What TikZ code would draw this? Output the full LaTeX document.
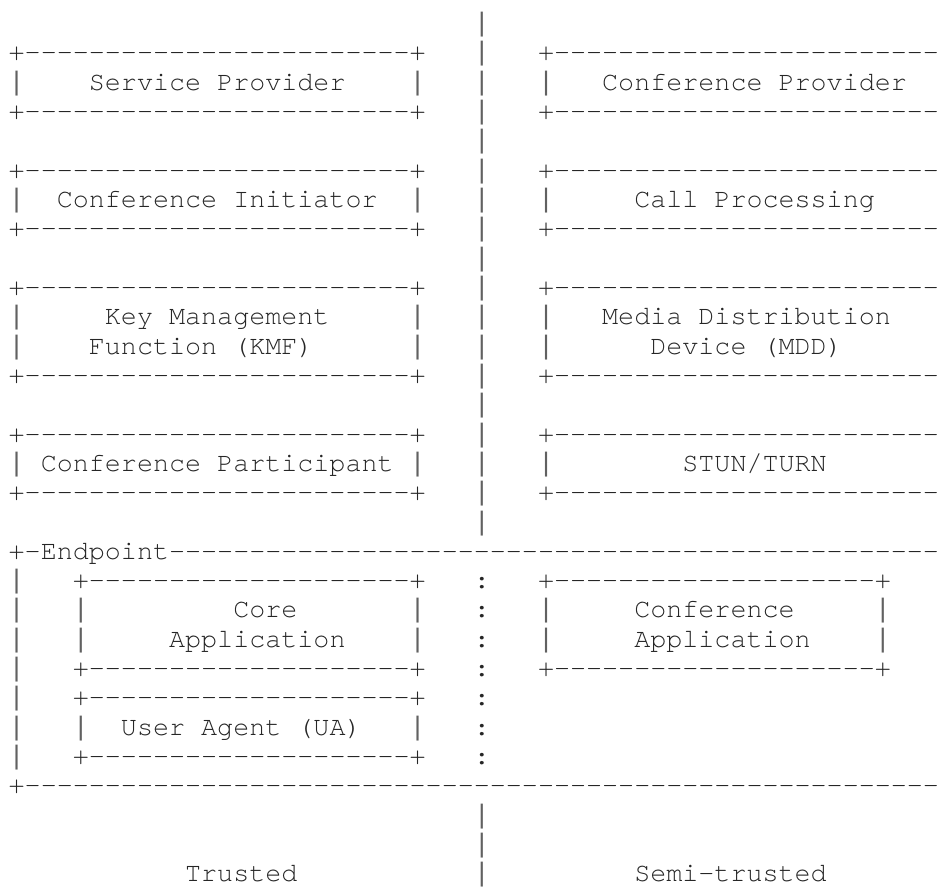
\documentclass[tikz,border=0pt]{standalone}
\usepackage{fontspec}
\setmonofont{TeX Gyre Cursor}
\newfontfamily\barfont{Liberation Mono}
\ExplSyntaxOn
\cs_new:Npn \dashrun #1 { \prg_replicate:nn {#1} {-} }
\ExplSyntaxOff
% character grid: column width and row pitch, in px units
\newcommand\gx[1]{8.7+16.04*(#1)}
\newcommand\gy[1]{31.4+29.33*(#1)}
\newcommand\vbar{{\barfont\color{black!62}|}}
\tikzset{
  ascii/.style={font=\ttfamily\fontsize{20.05pt}{22pt}\selectfont,
    anchor=base west, inner sep=0pt, outer sep=0pt, text=black!85},
}
\newcommand\cell[4]{\node[ascii] (#1) at ({\gx{#2}},{\gy{#3}}) {#4};}
\begin{document}
\begin{tikzpicture}[x=0.75pt,y=-0.75pt]
\useasboundingbox (0,0) rectangle (943,887);
\fill[white] (0,0) rectangle (943,887);
\clip (0,0) rectangle (943,887);

% trust boundary between the two columns
\foreach \r in {0,...,17} {\cell{div\r}{29}{\r}{\vbar}}
\foreach \r in {27,28,29} {\cell{div\r}{29}{\r}{\vbar}}

% upper boxes: top and bottom rules (right-hand boxes run off the page)
\foreach \r in {1,3,5,7,9,12,14,16} {
  \cell{bl\r}{0}{\r}{+\dashrun{24}+}
  \cell{br\r}{33}{\r}{+\dashrun{24}}
}
% upper boxes: side bars
\foreach \r in {2,6,10,11,15} {
  \cell{lsa\r}{0}{\r}{\vbar}
  \cell{lsb\r}{25}{\r}{\vbar}
  \cell{rsa\r}{33}{\r}{\vbar}
}
% upper box labels
\cell{sp}{5}{2}{Service Provider}
\cell{cprov}{37}{2}{Conference Provider}
\cell{ci}{3}{6}{Conference Initiator}
\cell{callp}{39}{6}{Call Processing}
\cell{kmfa}{6}{10}{Key Management}
\cell{kmfb}{5}{11}{Function (KMF)}
\cell{mdda}{37}{10}{Media Distribution}
\cell{mddb}{40}{11}{Device (MDD)}
\cell{part}{2}{15}{Conference Participant}
\cell{stun}{42}{15}{STUN/TURN}

% endpoint frame
\cell{eptop}{0}{18}{+-Endpoint\dashrun{48}}
\foreach \r in {19,...,25} {
  \cell{epl\r}{0}{\r}{\vbar}
  \cell{dots\r}{29}{\r}{:}
}
\cell{epbot}{0}{26}{+\dashrun{57}}

% core application box
\cell{corea}{4}{19}{+\dashrun{20}+}
\cell{coreb}{4}{22}{+\dashrun{20}+}
\foreach \r in {20,21} {
  \cell{corel\r}{4}{\r}{\vbar}
  \cell{corer\r}{25}{\r}{\vbar}
}
\cell{coretxta}{14}{20}{Core}
\cell{coretxtb}{10}{21}{Application}

% conference application box
\cell{appa}{33}{19}{+\dashrun{20}+}
\cell{appb}{33}{22}{+\dashrun{20}+}
\foreach \r in {20,21} {
  \cell{appl\r}{33}{\r}{\vbar}
  \cell{appr\r}{54}{\r}{\vbar}
}
\cell{apptxta}{39}{20}{Conference}
\cell{apptxtb}{39}{21}{Application}

% user agent box
\cell{uaa}{4}{23}{+\dashrun{20}+}
\cell{uab}{4}{25}{+\dashrun{20}+}
\cell{ual}{4}{24}{\vbar}
\cell{uar}{25}{24}{\vbar}
\cell{uatxt}{7}{24}{User Agent (UA)}

% trust zone captions
\cell{trusted}{11}{29}{Trusted}
\cell{semi}{39}{29}{Semi-trusted}
\end{tikzpicture}
\end{document}
